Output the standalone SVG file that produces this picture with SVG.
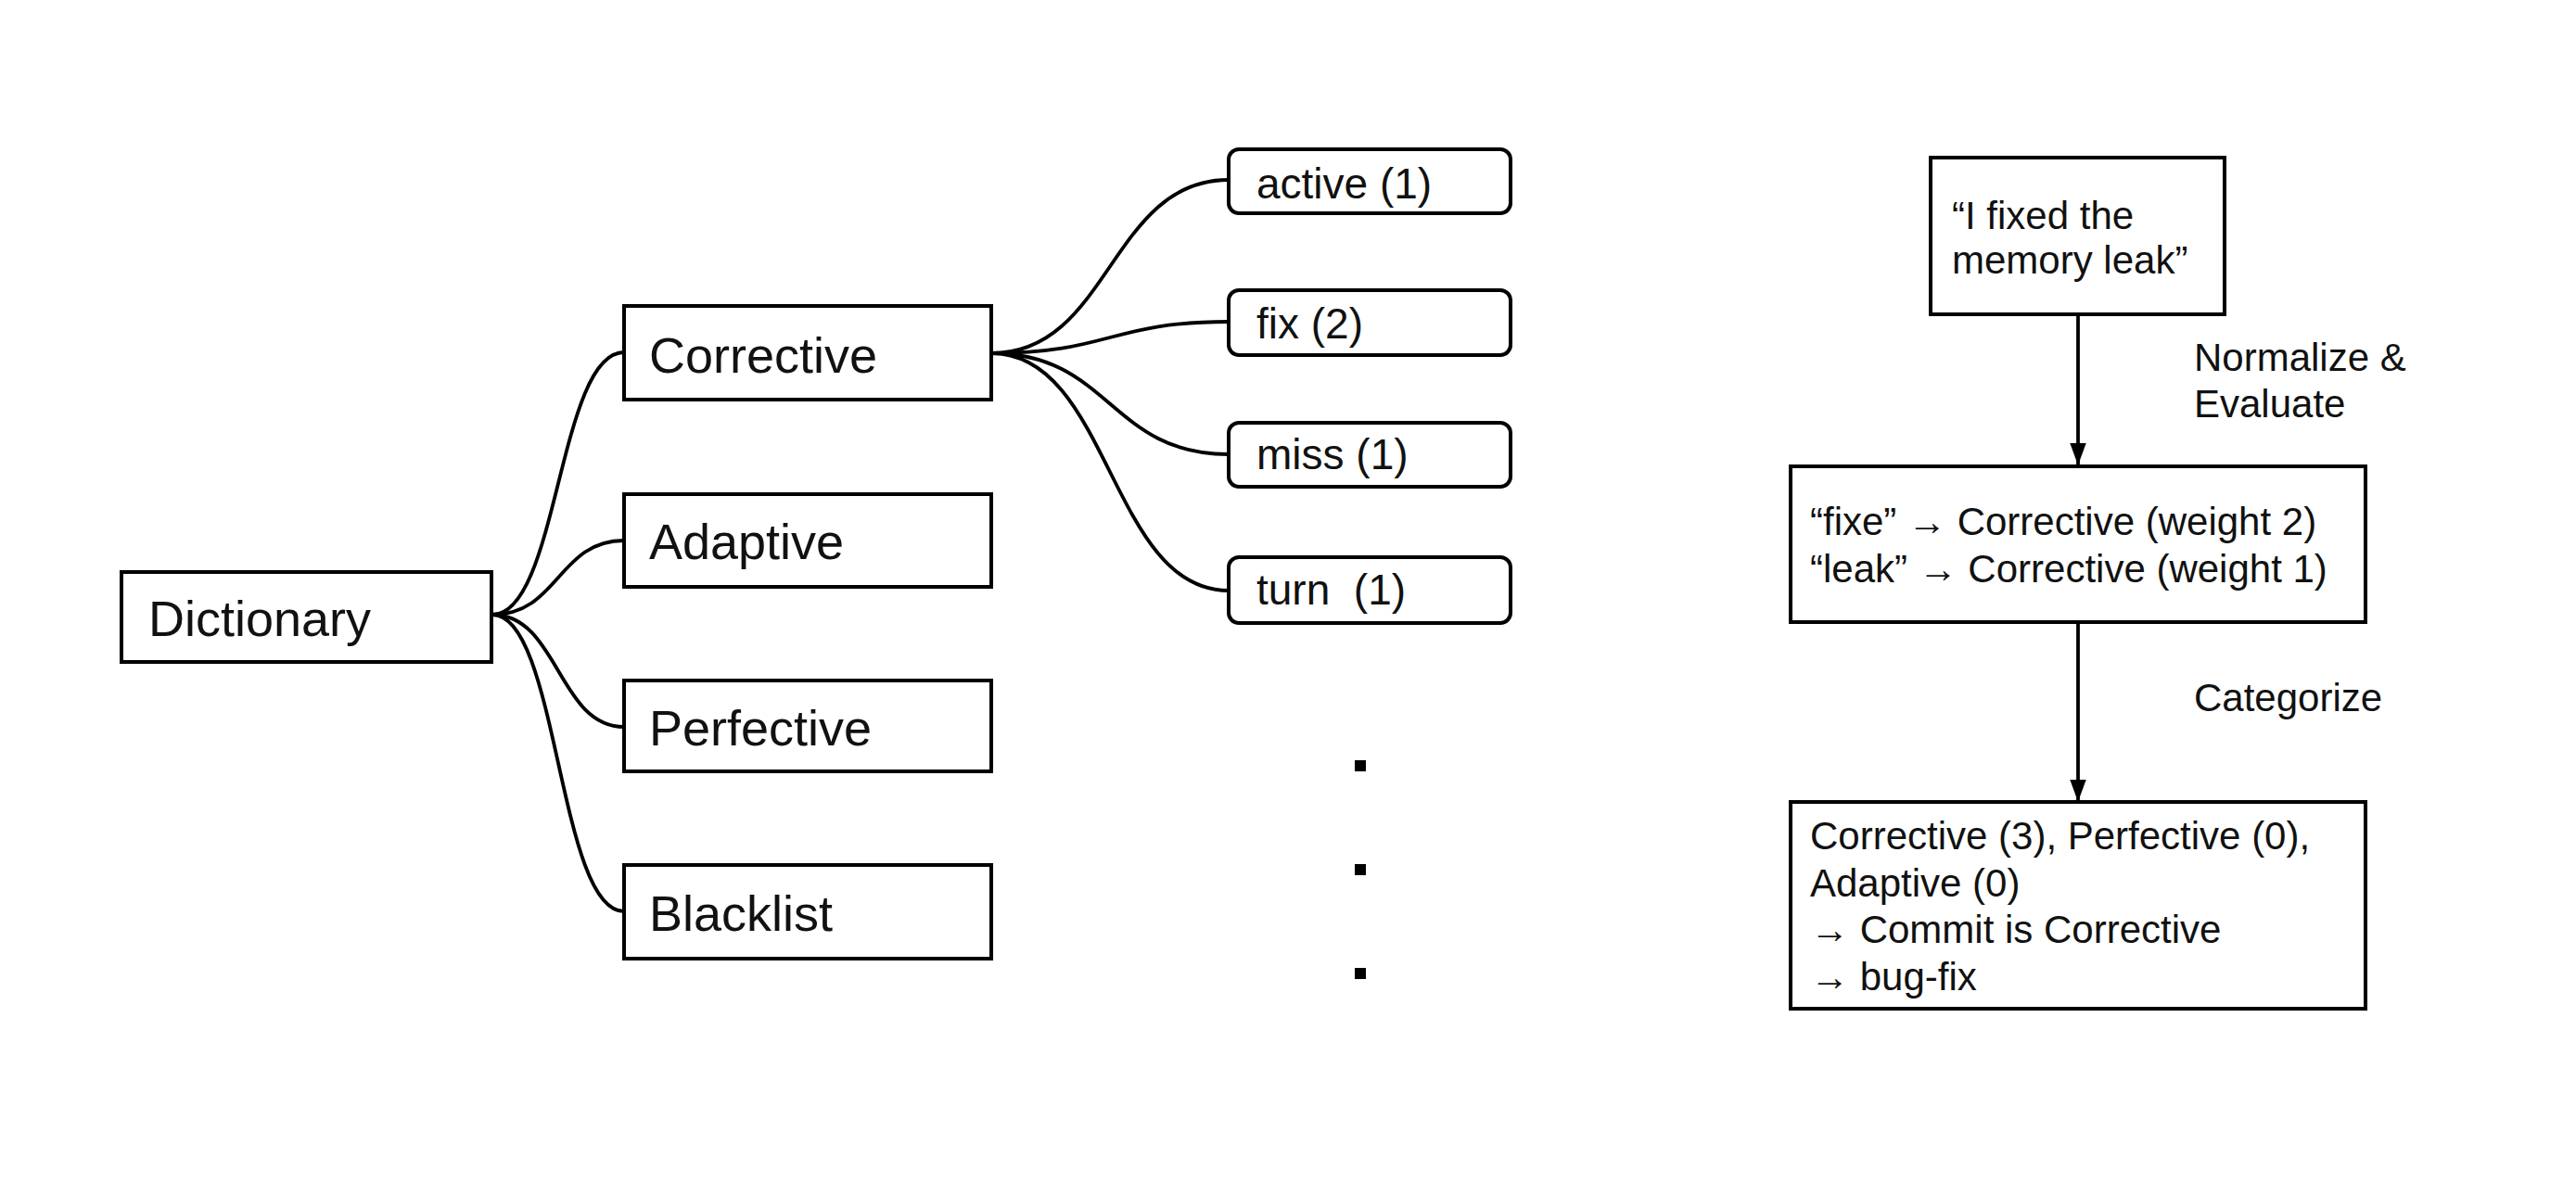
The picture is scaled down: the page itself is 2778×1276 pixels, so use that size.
<svg xmlns="http://www.w3.org/2000/svg" width="2778" height="1276" viewBox="0 0 2778 1276">
<style>
.box{fill:#fff;stroke:#000;stroke-width:4}
.conn{fill:none;stroke:#000;stroke-width:3.8}
.big{font-family:"Liberation Sans",Arial,sans-serif;font-size:54px;fill:#111}
.mid{font-family:"Liberation Sans",Arial,sans-serif;font-size:46px;fill:#111;white-space:pre}
.sm{font-family:"Liberation Sans",Arial,sans-serif;font-size:42px;fill:#111}
</style>
<defs>
<marker id="arr" markerUnits="userSpaceOnUse" markerWidth="24" markerHeight="30" refX="29" refY="11" orient="auto" viewBox="0 0 30 22">
<path d="M0,0 L30,11 L0,22 Z" fill="#000"/>
</marker>
</defs>
<rect width="2778" height="1276" fill="#fff"/>
<g id="connectors">
<path class="conn" d="M531,663 C602,663 602,380 673,380"/>
<path class="conn" d="M531,663 C602,663 602,583 673,583"/>
<path class="conn" d="M531,663 C602,663 602,784 673,784"/>
<path class="conn" d="M531,663 C602,663 602,983 673,983"/>
<path class="conn" d="M1069,381 C1197,381 1197,194 1325,194"/>
<path class="conn" d="M1069,381 C1197,381 1197,347 1325,347"/>
<path class="conn" d="M1069,381 C1197,381 1197,490 1325,490"/>
<path class="conn" d="M1069,381 C1197,381 1197,637 1325,637"/>
<line class="conn" x1="2241" y1="339" x2="2241" y2="501" marker-end="url(#arr)"/>
<line class="conn" x1="2241" y1="671" x2="2241" y2="864" marker-end="url(#arr)"/>
</g>
<g id="dictionary"><rect class="box" x="131" y="617" width="399" height="97"/><text class="big" x="160" y="686">Dictionary</text></g>
<g id="corrective"><rect class="box" x="673" y="330" width="396" height="101"/><text class="big" x="700" y="402">Corrective</text></g>
<g id="adaptive"><rect class="box" x="673" y="533" width="396" height="100"/><text class="big" x="700" y="603">Adaptive</text></g>
<g id="perfective"><rect class="box" x="673" y="734" width="396" height="98"/><text class="big" x="700" y="804">Perfective</text></g>
<g id="blacklist"><rect class="box" x="673" y="933" width="396" height="101"/><text class="big" x="700" y="1004">Blacklist</text></g>
<g id="active"><rect class="box" x="1325" y="161" width="304" height="69" rx="11"/><text class="mid" x="1355" y="214">active (1)</text></g>
<g id="fix"><rect class="box" x="1325" y="313" width="304" height="70" rx="11"/><text class="mid" x="1355" y="365">fix (2)</text></g>
<g id="miss"><rect class="box" x="1325" y="456" width="304" height="69" rx="11"/><text class="mid" x="1355" y="506">miss (1)</text></g>
<g id="turn"><rect class="box" x="1325" y="601" width="304" height="71" rx="11"/><text class="mid" x="1355" y="652" xml:space="preserve">turn  (1)</text></g>
<g id="ellipsis">
<rect x="1461" y="820" width="12" height="12" fill="#000"/>
<rect x="1461" y="932" width="12" height="12" fill="#000"/>
<rect x="1461" y="1044" width="12" height="12" fill="#000"/>
</g>
<g id="commit"><rect class="box" x="2082" y="170" width="317" height="169"/><text class="sm" x="2105" y="247">“I fixed the</text><text class="sm" x="2105" y="295">memory leak”</text></g>
<g id="evaluate"><rect class="box" x="1931" y="503" width="620" height="168"/><text class="sm" x="1952" y="577">“fixe” → Corrective (weight 2)</text><text class="sm" x="1952" y="628">“leak” → Corrective (weight 1)</text></g>
<g id="result"><rect class="box" x="1931" y="865" width="620" height="223"/><text class="sm" x="1952" y="916">Corrective (3), Perfective (0),</text><text class="sm" x="1952" y="967">Adaptive (0)</text><text class="sm" x="1952" y="1017">→ Commit is Corrective</text><text class="sm" x="1952" y="1068">→ bug-fix</text></g>
<g id="labels">
<text class="sm" x="2366" y="400">Normalize &amp;</text>
<text class="sm" x="2366" y="450">Evaluate</text>
<text class="sm" x="2366" y="767">Categorize</text>
</g>
</svg>
